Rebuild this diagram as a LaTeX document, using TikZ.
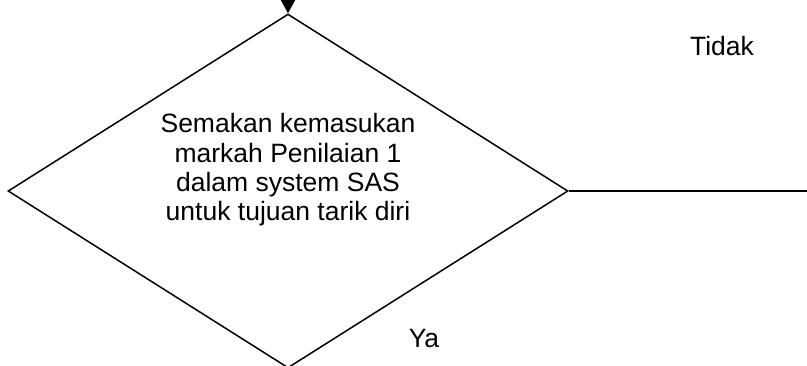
\documentclass[tikz,border=0pt]{standalone}
\usepackage{fontspec}
\setmainfont{Liberation Sans}
\usetikzlibrary{shapes.geometric, arrows.meta}

\begin{document}
\begin{tikzpicture}[x=1pt, y=-1pt, line width=1.5pt, >={Triangle[length=14pt,width=15pt]},
  semak/.style={draw, diamond, minimum width=560pt, minimum height=354pt, inner sep=0pt},
  teksnod/.style={font=\fontsize{26.5}{29.3}\selectfont, align=center, inner sep=0pt}]
  \useasboundingbox (0,0) rectangle (807,365);
  \node[semak] (semak) at (288,191) {};
  \node[teksnod] (teks) at (288,170) {Semakan kemasukan\\markah Penilaian 1\\dalam system SAS\\untuk tujuan tarik diri};
  \coordinate (atas) at (288,-30);
  \coordinate (sambung) at (688,191);
  \coordinate (kanan) at (830,191);
  \draw[->] (atas) -- (semak.north);
  \draw (semak.east) -- (sambung);
  \draw (sambung) -- (kanan);
  \node[teksnod] (tidak) at (722,46.5) {Tidak};
  \node[teksnod] (ya) at (424,338.5) {Ya};
\end{tikzpicture}
\end{document}
